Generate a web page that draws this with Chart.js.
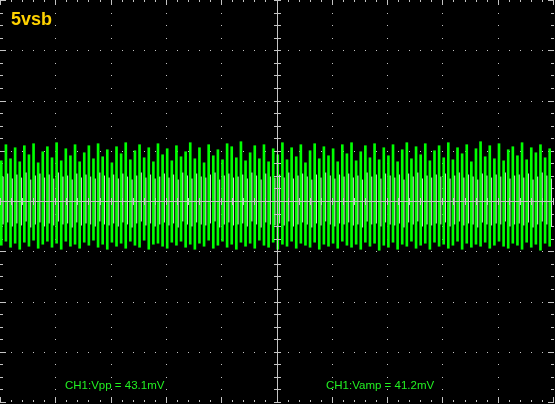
<!DOCTYPE html>
<html>
<head>
<meta charset="utf-8">
<script src="https://cdn.jsdelivr.net/npm/chart.js@4.4.1/dist/chart.umd.min.js"></script>
<style>
  html, body { margin: 0; padding: 0; background: #000; }
  canvas { display: block; }
</style>
</head>
<body>
<canvas id="scope" width="555" height="404"></canvas>
<script>
// trace columns (in divisions, 0 = centre line)
const greenTop = [
  0.80,1.12,0.84,1.06,0.78,1.10,0.92,1.14,0.76,0.98,1.08,0.86,
  1.16,0.80,1.04,0.90,1.12,0.78,0.96,1.10,0.84,1.14,0.88,1.02,
  0.76,1.08,0.94,1.16,0.82,1.00,1.12,0.86,1.06,0.78,1.14,0.92,
  1.04,0.80,1.10,0.88,0.98,1.16,0.84,1.06,0.76,1.12,0.90,1.02,
  0.82,1.14,1.08,0.86,1.18,0.80,0.96,1.10,0.84,1.12,0.78,1.04,
  0.92,1.16,0.82,1.06,0.88,1.12,0.76,1.00,1.14,0.84,1.08,0.90,
  1.04,0.78,1.12,0.94,1.16,0.80,0.98,1.10,0.86,1.14,0.82,1.06,
  0.90,1.12,0.78,1.02,1.16,0.84,1.08,0.92,1.14,0.80,1.00,1.10,
  0.86,1.16,0.82,1.06,0.94,1.12,0.78,1.04,1.18,0.88,1.10,0.84,
  1.14,0.80,1.02,1.08,0.90,1.16,0.82,1.06,0.96,1.12,0.86,1.04
];
const greenBottom = [
  -0.88,-0.80,-0.92,-0.84,-0.96,-0.82,-0.90,-0.78,-0.94,-0.86,-0.80,-0.92,
  -0.84,-0.96,-0.80,-0.90,-0.86,-0.94,-0.82,-0.88,-0.78,-0.92,-0.86,-0.96,
  -0.82,-0.90,-0.84,-0.94,-0.80,-0.88,-0.92,-0.78,-0.96,-0.86,-0.84,-0.90,
  -0.94,-0.82,-0.88,-0.80,-0.92,-0.86,-0.96,-0.84,-0.90,-0.78,-0.94,-0.88,
  -0.80,-0.92,-0.86,-0.96,-0.82,-0.90,-0.84,-0.94,-0.78,-0.88,-0.92,-0.82,
  -0.96,-0.86,-0.90,-0.80,-0.94,-0.84,-0.88,-0.92,-0.82,-0.96,-0.86,-0.90,
  -0.84,-0.94,-0.80,-0.88,-0.92,-0.86,-0.96,-0.82,-0.90,-0.84,-0.98,-0.88,
  -0.92,-0.82,-0.96,-0.86,-0.90,-0.80,-0.94,-0.88,-0.84,-0.96,-0.82,-0.90,
  -0.86,-0.94,-0.88,-0.80,-0.96,-0.84,-0.92,-0.86,-0.90,-0.82,-0.94,-0.88,
  -0.80,-0.90,-0.94,-0.84,-0.88,-0.96,-0.82,-0.92,-0.86,-0.98,-0.84,-0.90
];
const greyTop = [
  0.48,0.54,0.44,0.52,0.46,0.56,0.42,0.50,0.54,0.46,0.52,0.44,
  0.56,0.48,0.50,0.42,0.54,0.46,0.52,0.48,0.44,0.56,0.50,0.46,
  0.52,0.44,0.54,0.48,0.42,0.50,0.56,0.46,0.52,0.44,0.48,0.54,
  0.46,0.52,0.42,0.56,0.50,0.44,0.54,0.48,0.46,0.52,0.56,0.42,
  0.50,0.54,0.46,0.48,0.52,0.44,0.56,0.50,0.42,0.54,0.48,0.46,
  0.52,0.46,0.56,0.44,0.50,0.54,0.48,0.42,0.52,0.46,0.56,0.50,
  0.44,0.52,0.48,0.54,0.46,0.50,0.42,0.56,0.48,0.52,0.44,0.54,
  0.50,0.46,0.52,0.42,0.54,0.48,0.56,0.44,0.50,0.46,0.52,0.48,
  0.54,0.44,0.50,0.56,0.46,0.52,0.48,0.42,0.54,0.50,0.46,0.52,
  0.48,0.56,0.44,0.50,0.52,0.46,0.54,0.42,0.48,0.56,0.50,0.44
];
const greyBottom = [
  -0.46,-0.42,-0.50,-0.44,-0.48,-0.40,-0.52,-0.46,-0.42,-0.50,-0.44,-0.48,
  -0.40,-0.46,-0.44,-0.52,-0.42,-0.48,-0.44,-0.46,-0.50,-0.40,-0.46,-0.48,
  -0.44,-0.50,-0.42,-0.46,-0.52,-0.44,-0.40,-0.48,-0.44,-0.50,-0.46,-0.42,
  -0.48,-0.44,-0.52,-0.40,-0.46,-0.50,-0.42,-0.46,-0.48,-0.44,-0.40,-0.52,
  -0.46,-0.42,-0.48,-0.46,-0.44,-0.50,-0.40,-0.46,-0.52,-0.42,-0.46,-0.48,
  -0.44,-0.48,-0.40,-0.50,-0.46,-0.42,-0.46,-0.52,-0.44,-0.48,-0.40,-0.46,
  -0.50,-0.44,-0.46,-0.42,-0.48,-0.46,-0.52,-0.40,-0.46,-0.44,-0.50,-0.42,
  -0.46,-0.48,-0.44,-0.52,-0.42,-0.46,-0.40,-0.50,-0.46,-0.48,-0.44,-0.46,
  -0.42,-0.50,-0.46,-0.40,-0.48,-0.44,-0.46,-0.52,-0.42,-0.46,-0.48,-0.44,
  -0.46,-0.40,-0.50,-0.46,-0.44,-0.48,-0.42,-0.52,-0.46,-0.40,-0.46,-0.50
];
const columns = greenTop.map((v, i) => String(i));

const title = "5vsb";
const readouts = ["CH1:Vpp = 43.1mV", "CH1:Vamp = 41.2mV"];
const readoutPos = [1.18, 5.9]; // division where each readout starts

const grid = "#c4c4c4";

const scopePlugin = {
  id: 'scope',
  beforeDraw(chart) {
    const ctx = chart.ctx;
    ctx.save();
    ctx.fillStyle = "#000";
    ctx.fillRect(0, 0, chart.width, chart.height);
    ctx.restore();
  },
  beforeDatasetsDraw(chart) {
    const ctx = chart.ctx;
    const gx = chart.scales.gx, gy = chart.scales.y;
    const a = chart.chartArea;
    const px = v => Math.round(gx.getPixelForValue(v));
    const py = v => Math.round(gy.getPixelForValue(v));
    ctx.save();
    ctx.fillStyle = grid;
    // dotted verticals
    for (let i = 1; i < 10; i++) {
      if (i === 5) continue;
      for (let n = 0; n <= 32; n++) ctx.fillRect(px(i), py(-4 + n / 4), 1, 1);
    }
    // dotted horizontals
    for (let j = -3; j <= 3; j++) {
      if (j === 0) continue;
      for (let n = 0; n <= 50; n++) ctx.fillRect(px(n / 5), py(j), 1, 1);
    }
    // edge ticks
    for (let n = 0; n <= 50; n++) {
      const len = n % 5 === 0 ? 5 : 2;
      ctx.fillRect(px(n / 5), Math.round(a.top), 1, len);
      ctx.fillRect(px(n / 5), Math.round(a.bottom) - len, 1, len);
    }
    for (let n = 0; n <= 32; n++) {
      const len = n % 4 === 0 ? 6 : 3;
      ctx.fillRect(Math.round(a.left), py(-4 + n / 4), len, 1);
      ctx.fillRect(Math.round(a.right) - len + 1, py(-4 + n / 4), len, 1);
    }
    ctx.restore();
  },
  afterDatasetsDraw(chart) {
    const ctx = chart.ctx;
    const gx = chart.scales.gx, gy = chart.scales.y;
    const a = chart.chartArea;
    const px = v => Math.round(gx.getPixelForValue(v));
    const py = v => Math.round(gy.getPixelForValue(v));
    ctx.save();
    ctx.fillStyle = grid;
    // centre crosshair
    ctx.fillRect(px(5), Math.round(a.top), 1, Math.round(a.bottom - a.top));
    ctx.fillRect(Math.round(a.left), py(0), Math.round(a.right - a.left), 1);
    for (let n = 0; n <= 32; n++) ctx.fillRect(px(5) - 3, py(-4 + n / 4), 7, 1);
    for (let n = 0; n <= 50; n++) ctx.fillRect(px(n / 5), py(0) - 3, 1, 7);

    ctx.fillStyle = "#ffd200";
    ctx.font = "bold 18px 'Liberation Sans', Arial, sans-serif";
    ctx.textBaseline = "alphabetic";
    ctx.fillText(title, 11, 25);

    ctx.fillStyle = "#22f022";
    ctx.font = "11.5px 'Liberation Sans', Arial, sans-serif";
    readouts.forEach((t, i) => ctx.fillText(t, px(readoutPos[i]), py(-3.74)));
    ctx.restore();
  }
};

new Chart(document.getElementById('scope'), {
  type: 'bar',
  data: {
    labels: columns,
    datasets: [
      {
        label: 'CH1',
        data: greenTop.map((v, i) => [greenBottom[i], v]),
        backgroundColor: '#00ff00',
        barThickness: 2,
        borderWidth: 0
      },
      {
        label: 'CH1 dim',
        data: greyTop.map((v, i) => [greyBottom[i], v]),
        backgroundColor: 'rgb(205,220,205)',
        barThickness: 1,
        borderWidth: 0
      }
    ]
  },
  options: {
    responsive: false,
    animation: false,
    layout: { padding: { left: 0, right: 2, top: 0, bottom: 2 } },
    datasets: { bar: { categoryPercentage: 1, barPercentage: 1 } },
    plugins: { legend: { display: false }, tooltip: { enabled: false } },
    scales: {
      x: { type: 'category', display: false, offset: true },
      gx: { type: 'linear', axis: 'x', min: 0, max: 10, offset: false, display: false },
      y: { type: 'linear', min: -4, max: 4, display: false }
    }
  },
  plugins: [scopePlugin]
});
</script>
</body>
</html>
